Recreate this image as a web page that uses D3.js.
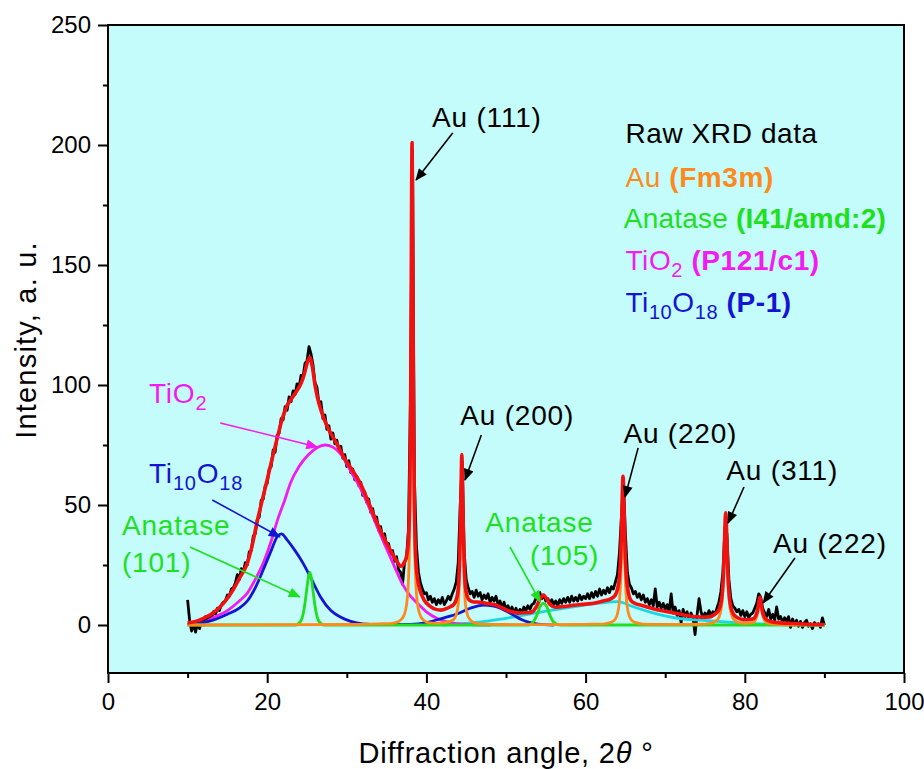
<!DOCTYPE html>
<html><head><meta charset="utf-8">
<script src="https://cdn.jsdelivr.net/npm/d3@7"></script>
<style>body{margin:0;background:#fff}svg{display:block}text{font-family:"Liberation Sans",Arial,sans-serif}</style>
</head><body><svg id="c" width="924" height="769"></svg>
<script>
// ---------- DATA ----------
const xTicks = [0, 20, 40, 60, 80, 100];
const xMinorTicks = [10, 30, 50, 70, 90];
const yTicks = [0, 50, 100, 150, 200, 250];
const yMinorTicks = [25, 75, 125, 175, 225];

// raw XRD data: intensity sampled from 10° to 90° in 0.25° steps
const angleStart = 10, angleStep = 0.25;
const rawIntensity = [
 10.5,2,-2.5,0.5, -3,1,-1.5,2, 0,3.5,1.5,4, 3,5.5,4.5,7, 6,8.5,9.5,10,
 12.5,12,15,15.5, 17.5,21,19,23.5, 22,26,25,30.5, 31,37,38,44, 45,52,52.5,58,
 59,65,66,73, 72,79,80,86, 85.5,91,89.5,95, 93,97.5,96,100.5, 99,104,103.5,109,
 110,116,113,108.5, 101,99,92.5,93, 86,87.5,81.5,83, 77.5,80,75.5,77, 72.5,74.5,69.5,71,
 66,68.5,63.5,65, 60.5,62,58,59.5, 54,55.5,51,52.5, 47,48.5,43.5,45, 39.5,41,36,38,
 32.5,34,29.5,31, 26.5,28.5,23,22, 17,26,28,40, 95,198,60,33, 22,17.5,15,13,
 13.5,10.5,12,9.5, 11,8.5,10.5,9, 11.5,8.5,10,12, 10.5,13,15,18, 26,50,68,30,
 19,15.5,13,14, 11.5,14.5,12,13.5, 10.5,12.5,11,13, 9.5,11.5,10,12, 8.5,10,7,9.5,
 6.5,8,5.5,7.5, 5,7,4.5,6.5, 5,7.5,6,8, 6.5,8.5,9,11, 12,13.5,11,12.5,
 10,11,9,10.5, 8.5,10,8,10.5, 9,11,9.5,11.5, 9.5,12,10,11.5, 10,12.5,10.5,12,
 11,13,11,13.5, 11.5,14,12,15, 12.5,14.5,13,15.5, 13.5,16,15,18, 21,30,45,60,
 38,22,17,15.5, 13,14,11.5,13, 10.5,12.5,9.5,11, 8.5,10.5,8,15, 7.5,9.5,7,9,
 6.5,8.5,5.5,13, 5,7.5,4,6, 1,6.5,3.5,5.5, 2.5,5,3,-4, 4,11,5.5,3,
 5,3.5,6,4, 5.5,4.5,7,9.5, 14,22,40,38, 19,11,8,7, 5.5,6.5,4,6,
 3.5,5.5,3,4.5, 5,7,9,13, 11.5,7,5,3.5, 6.5,2.5,4.5,2, 7.5,2.5,3.5,1,
 3,1.5,3.5,-1, 2.5,0,2,-0.5, 1.5,-1,1,2, -0.5,0.5,-1.5,1, 0,0.5,-1,3,
 0
];

// fitted components [angle, intensity]
const auFit = [[10,0],[30,0.2],[34,0.5],[35.5,0.6],[36.0,0.9],[36.7,1.9],[37.2,4.2],[37.5,8.3],[37.75,19],[37.9,38],[38.0,68],[38.05,95],[38.1,131],[38.15,171],[38.2,190],[38.25,171],[38.3,131],[38.35,95],[38.4,68],[38.5,38],[38.65,19],[38.9,8.3],[39.2,4.2],[39.7,1.9],[40.4,0.9],[41.2,0.8],[42.0,0.9],[42.95,1.5],[43.45,2.4],[43.75,4.35],[44.0,8.8],[44.15,19],[44.25,31],[44.35,49.6],[44.4,58.4],[44.45,62],[44.5,58.4],[44.55,49.6],[44.65,31],[44.75,19],[44.9,8.8],[45.15,4.35],[45.45,2.4],[45.95,1.07],[47,0.4],[50,0.2],[56,0.15],[60,0.3],[62.2,0.4],[63.2,1.1],[63.7,2.3],[64.0,4.7],[64.25,10],[64.4,18.2],[64.5,28.5],[64.6,43],[64.65,49.4],[64.7,52],[64.75,49.4],[64.8,43],[64.9,28.5],[65.0,18.2],[65.15,10],[65.4,4.7],[65.7,2.3],[66.2,1.1],[67.2,0.4],[70,0.25],[73,0.3],[75.1,0.4],[76.1,1.1],[76.6,2.4],[76.9,4.6],[77.15,9.7],[77.3,17.2],[77.4,26],[77.5,37.5],[77.55,42.2],[77.6,44],[77.65,42.2],[77.7,37.5],[77.8,26],[77.9,17.2],[78.05,9.7],[78.3,4.6],[78.6,2.4],[79.1,1.1],[79.6,0.8],[80.1,0.6],[80.6,0.8],[81.1,1.1],[81.4,2.4],[81.6,4.66],[81.7,6.6],[81.8,8.9],[81.9,10],[82.0,8.9],[82.1,6.6],[82.2,4.66],[82.4,2.4],[82.7,1.1],[83.2,0.43],[85,0.1],[90,0]];
const anataseFit = [[10,0],[23.5,0],[24.2,1.5],[24.6,6],[24.9,13],[25.15,19.5],[25.35,22],[25.55,19.5],[25.8,13],[26.1,6],[26.5,1.5],[27.2,0],[52.8,0],[53.4,1.2],[53.9,4.2],[54.3,7.8],[54.7,9],[55.1,7.8],[55.5,4.2],[56.0,1.2],[56.8,0],[90,0]];
const tio2Fit = [[10,0.3],[12,1],[13.2,3],[15,6],[16.5,10],[17.5,13.3],[18.5,19],[19.5,25.8],[20.5,35],[21.3,43.8],[22.2,52],[22.9,59],[24,66],[25.2,71],[26.3,74],[27.3,75],[28.3,74],[29.3,71],[30.5,64],[31.7,57],[32.8,49],[33.8,41],[34.7,34],[35.5,28],[36.3,22],[37,17],[38,12],[38.9,9],[40,5.5],[41.5,2.5],[43,1],[45,0.3],[48,0]];
const ti10o18Fit = [[10,0.3],[12,1],[13.2,2],[15,4.5],[16.5,7],[17.5,10],[18.5,15.5],[19.5,23],[20.5,31],[21.3,37],[21.8,38],[22.5,35.5],[23.5,31],[24.5,25.8],[25.5,19.5],[26.7,11.7],[28,6],[29.2,3.3],[30.5,1.5],[32,0.5],[34,0.2],[38,0.3],[40,1],[42,2.8],[44,4.8],[45.5,7],[47.2,8.3],[48.3,8],[49.3,7],[50.2,5.5],[51,4],[52,2.2],[52.8,1.2],[54,0.4],[56,0]];
const backgroundFit = [[42,0],[46,1],[50,2.8],[54,5.2],[58,7.3],[62,9.2],[64,9.7],[66,7.6],[68,5.5],[70,3.8],[72,2.6],[74.5,2],[77,1.4],[79,1],[82,0.5],[86,0.2],[90,0]];
const totalFit = [[10,0.8],[11,1.5],[12,2.8],[13.2,5],[14.5,9],[15.7,14.6],[16.6,20],[17.5,25.8],[18.1,33],[18.7,42.5],[19.3,51],[20,60.5],[20.6,69],[21.3,78.4],[21.9,86],[22.5,91.5],[23.2,95],[23.8,98],[24.3,101],[24.7,105],[25.0,109],[25.35,111.5],[25.7,107],[26.0,100],[26.3,95],[26.8,89],[27.5,83],[28.3,78],[29.0,74],[29.6,70],[30.6,65],[31.7,59],[32.8,50.5],[33.8,42.5],[34.7,36],[35.5,31],[36.2,27],[36.8,24.5],[37.2,26],[37.5,28.5],[37.75,36],[37.9,53],[38.0,82],[38.05,108],[38.1,144],[38.15,184],[38.2,201],[38.25,182],[38.3,141],[38.35,104],[38.4,78],[38.5,48],[38.65,29],[38.9,19],[39.2,14.5],[39.7,10.5],[40.4,8],[41.2,6.5],[41.8,6.2],[42.5,6.8],[43.0,7.6],[43.45,8.6],[43.75,10.6],[44.0,15],[44.15,25.5],[44.25,37.5],[44.35,56],[44.4,65],[44.45,71],[44.5,65],[44.55,56.5],[44.65,38],[44.75,26],[44.9,16],[45.15,11.8],[45.45,10.2],[45.95,9.6],[46.4,9.6],[47.5,9],[48.5,8.5],[49.5,7.2],[50.6,5.6],[51.8,5],[53.1,5.2],[53.8,7.5],[54.3,11],[54.7,12.5],[55.1,11],[55.5,8.6],[56.2,7.4],[57,7.6],[58.5,8.2],[60,8.7],[61.2,9.2],[62.2,10],[63.2,11],[63.7,12.3],[64.0,14.8],[64.25,20],[64.4,28],[64.5,38.5],[64.6,53],[64.65,59.5],[64.7,62],[64.75,59.3],[64.8,52.7],[64.9,38],[65.0,27.5],[65.15,19],[65.4,13],[65.7,10.2],[66.2,9],[67,8.2],[68.5,6.8],[70.3,5.5],[72.3,4.2],[74.5,3.3],[75.6,3.4],[76.1,4.2],[76.6,5.6],[76.9,7.6],[77.15,12.5],[77.3,20],[77.4,29],[77.5,40],[77.55,45],[77.6,46.7],[77.65,45],[77.7,40],[77.8,28.5],[77.9,19.6],[78.05,12],[78.3,6.8],[78.6,4.4],[79.1,3],[79.6,2.4],[80.1,2.2],[80.6,2.3],[81.1,2.7],[81.4,4],[81.6,6.2],[81.7,8],[81.8,10.4],[81.9,11.5],[82.0,10.3],[82.1,8],[82.2,6],[82.4,3.7],[82.7,2.3],[83.2,1.5],[84.5,0.9],[86,0.6],[88,0.3],[90,0.2]];

// peak annotations: label, text anchor position, arrow start, arrow end (data units)
const auLabels = ["Au (111)", "Au (200)", "Au (220)", "Au (311)", "Au (222)"];
const auLabelPos = [[47.6,207.5],[51.4,83.3],[71.9,75.8],[84.7,60.4],[90.7,30]];
const auArrows = [[[43.3,205],[38.7,185.4]],[[46.9,79.2],[44.85,60.4]],[[66.6,73.8],[64.95,53.3]],[[79.9,57.5],[77.9,42.5]],[[86.3,27.9],[82.3,9.2]]];

// ---------- CHART ----------
const svg = d3.select("#c");
const x = d3.scaleLinear().domain([0, 100]).range([108, 904]);
const y = d3.scaleLinear().domain([-20, 250]).range([673, 25]);
const FONT = '"Liberation Sans", Arial, sans-serif';
const C = {raw:"#000000", au:"#ff8a1c", ana:"#1ee01e", tio2:"#f21cf2", ti10:"#1414d2", bg:"#19d8e6", fit:"#f21010"};

svg.append("rect").attr("x", x(0)).attr("y", y(250)).attr("width", x(100)-x(0)).attr("height", y(-20)-y(250)).attr("fill", "#c4fbfb");

const defs = svg.append("defs");
defs.append("clipPath").attr("id","clip").append("rect").attr("x", x(0)).attr("y", y(250)).attr("width", x(100)-x(0)).attr("height", y(-20)-y(250));
function marker(id, col){
  defs.append("marker").attr("id", id).attr("viewBox","0 0 12 10").attr("refX",11).attr("refY",5)
    .attr("markerWidth",13).attr("markerHeight",10).attr("markerUnits","userSpaceOnUse").attr("orient","auto")
    .append("path").attr("d","M0,0 L12,5 L0,10 Z").attr("fill", col);
}
marker("mk", "#000"); marker("mg", C.ana); marker("mm", C.tio2); marker("mb", C.ti10);

const plot = svg.append("g").attr("clip-path","url(#clip)");
const rawPts = rawIntensity.map((v,i)=>[angleStart + i*angleStep, v]);
const lineLin = d3.line().x(d=>x(d[0])).y(d=>y(d[1]));
const lineSm = d3.line().x(d=>x(d[0])).y(d=>y(d[1])).curve(d3.curveMonotoneX);

plot.append("path").attr("d", lineLin(rawPts)).attr("fill","none").attr("stroke",C.raw).attr("stroke-width",2.8).attr("stroke-linejoin","round");
[[backgroundFit,C.bg],[tio2Fit,C.tio2],[ti10o18Fit,C.ti10],[anataseFit,C.ana],[auFit,C.au]].forEach(([d,c])=>{
  plot.append("path").attr("d", lineSm(d)).attr("fill","none").attr("stroke",c).attr("stroke-width",2.8);
});
plot.append("path").attr("d", lineSm(totalFit)).attr("fill","none").attr("stroke",C.fit).attr("stroke-width",3.6).attr("stroke-linejoin","round");

// axes
function styleAxis(g){ g.select(".domain").remove(); g.selectAll("line").attr("stroke","#000").attr("stroke-width",2);
  g.selectAll("text").attr("font-family",FONT).attr("font-size",24).attr("fill","#000"); }
svg.append("g").attr("transform",`translate(0,${y(-20)})`)
  .call(d3.axisBottom(x).tickValues(xTicks).tickSize(10).tickPadding(10).tickFormat(d3.format("d"))).call(styleAxis);
svg.append("g").attr("transform",`translate(0,${y(-20)})`)
  .call(d3.axisBottom(x).tickValues(xMinorTicks).tickSize(5).tickFormat("")).call(styleAxis);
svg.append("g").attr("transform",`translate(${x(0)},0)`)
  .call(d3.axisLeft(y).tickValues(yTicks).tickSize(10).tickPadding(7).tickFormat(d3.format("d"))).call(styleAxis);
svg.append("g").attr("transform",`translate(${x(0)},0)`)
  .call(d3.axisLeft(y).tickValues(yMinorTicks).tickSize(5).tickFormat("")).call(styleAxis);
svg.append("rect").attr("x", x(0)).attr("y", y(250)).attr("width", x(100)-x(0)).attr("height", y(-20)-y(250))
  .attr("fill","none").attr("stroke","#000").attr("stroke-width",2);

// axis titles
svg.append("text").attr("x",(x(0)+x(100))/2).attr("y",763).attr("text-anchor","middle").attr("font-size",29).attr("letter-spacing",0.8).attr("font-family",FONT)
  .html('Diffraction angle, 2<tspan font-style="italic">θ</tspan> °');
svg.append("text").attr("transform",`translate(36,340) rotate(-90)`).attr("text-anchor","middle").attr("font-size",29).attr("letter-spacing",1.2).attr("font-family",FONT)
  .text("Intensity, a. u.");

// annotations
const ann = svg.append("g").attr("font-family",FONT).attr("font-size",28).attr("letter-spacing",0.8);
auLabels.forEach((t,i)=>{
  ann.append("text").attr("x",x(auLabelPos[i][0])).attr("y",y(auLabelPos[i][1])).attr("text-anchor","middle").attr("fill","#000").text(t);
  const a = auArrows[i];
  ann.append("line").attr("x1",x(a[0][0])).attr("y1",y(a[0][1])).attr("x2",x(a[1][0])).attr("y2",y(a[1][1]))
    .attr("stroke","#000").attr("stroke-width",1.6).attr("marker-end","url(#mk)");
});
function arrow(a, col, mk){
  ann.append("line").attr("x1",x(a[0][0])).attr("y1",y(a[0][1])).attr("x2",x(a[1][0])).attr("y2",y(a[1][1]))
    .attr("stroke",col).attr("stroke-width",1.6).attr("marker-end",`url(#${mk})`);
}
ann.append("text").attr("x",x(5.15)).attr("y",y(92.5)).attr("fill",C.tio2).html('TiO<tspan font-size="20" dy="7">2</tspan>');
arrow([[14.1,84.2],[26.3,74.2]], C.tio2, "mm");
ann.append("text").attr("x",x(5.15)).attr("y",y(59.2)).attr("fill",C.ti10).html('Ti<tspan font-size="20" dy="7">10</tspan><tspan dy="-7">O</tspan><tspan font-size="20" dy="7">18</tspan>');
arrow([[13.1,52.1],[21.6,36.7]], C.ti10, "mb");
ann.append("text").attr("x",x(1.76)).attr("y",y(37.5)).attr("fill",C.ana).text("Anatase");
ann.append("text").attr("x",x(1.76)).attr("y",y(22)).attr("fill",C.ana).text("(101)");
arrow([[10.3,32.5],[24.1,11.7]], C.ana, "mg");
ann.append("text").attr("x",x(47.4)).attr("y",y(38.75)).attr("fill",C.ana).text("Anatase");
ann.append("text").attr("x",x(53)).attr("y",y(25)).attr("fill",C.ana).text("(105)");
arrow([[50.5,32.5],[54.3,9.6]], C.ana, "mg");

// legend
const lg = svg.append("g").attr("font-family",FONT).attr("font-size",28).attr("letter-spacing",0.6);
lg.append("text").attr("x",x(65)).attr("y",y(200.8)).attr("fill","#000").text("Raw XRD data");
lg.append("text").attr("x",x(65)).attr("y",y(182.5)).attr("fill",C.au).html('Au <tspan font-weight="bold">(Fm3m)</tspan>');
lg.append("text").attr("x",x(64.8)).attr("y",y(165.4)).attr("fill",C.ana).attr("letter-spacing",0.2).html('Anatase <tspan font-weight="bold">(I41/amd:2)</tspan>');
lg.append("text").attr("x",x(65)).attr("y",y(147.9)).attr("fill",C.tio2).html('TiO<tspan font-size="20" dy="7">2</tspan><tspan dy="-7"> </tspan><tspan font-weight="bold">(P121/c1)</tspan>');
lg.append("text").attr("x",x(65)).attr("y",y(130.4)).attr("fill",C.ti10).html('Ti<tspan font-size="20" dy="7">10</tspan><tspan dy="-7">O</tspan><tspan font-size="20" dy="7">18</tspan><tspan dy="-7"> </tspan><tspan font-weight="bold">(P-1)</tspan>');
</script></body></html>
